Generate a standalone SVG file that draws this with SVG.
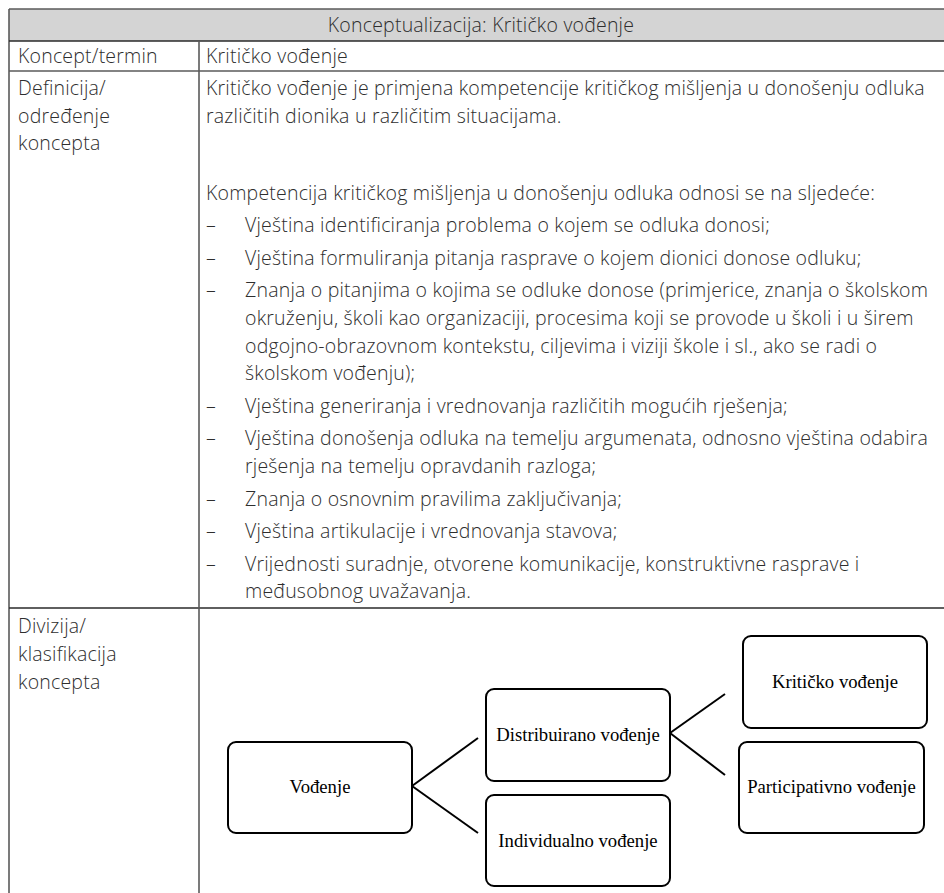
<svg xmlns="http://www.w3.org/2000/svg" width="944" height="893" viewBox="0 0 944 893">
  <style>
    .grid { stroke: #5a5a5a; stroke-width: 1.6; fill: none; }
    .t { font-family: "Open Sans", Lato, "Liberation Sans", sans-serif; font-weight: 300; font-size: 19.5px; letter-spacing: 0.2px; fill: #2e2e2e; }
    .hd { text-anchor: middle; }
    .d { font-family: "Liberation Serif", "Times New Roman", serif; font-size: 18.7px; fill: #000; text-anchor: middle; }
    .box { fill: #fff; stroke: #000; stroke-width: 2; }
    .link { stroke: #000; stroke-width: 2; fill: none; }
  </style>
  <rect width="944" height="893" fill="#fff"/>

  <!-- table frame -->
  <g id="table">
    <rect x="9" y="9" width="940" height="32" fill="#d4d4d4"/>
    <line class="grid" x1="9" y1="9" x2="944" y2="9"/>
    <line class="grid" x1="9" y1="9" x2="9" y2="893"/>
    <line x1="9" y1="41" x2="944" y2="41" stroke="#2a2a2a" stroke-width="1.6"/>
    <line class="grid" x1="9" y1="71" x2="944" y2="71"/>
    <line x1="9" y1="608" x2="944" y2="608" stroke="#2a2a2a" stroke-width="1.6"/>
    <line class="grid" x1="199" y1="41" x2="199" y2="893"/>
  </g>

  <!-- table text -->
  <g id="table-text" class="t">
    <text class="hd" x="481" y="32">Konceptualizacija: Kritičko vođenje</text>

    <text x="18" y="63">Koncept/termin</text>
    <text x="206" y="63">Kritičko vođenje</text>

    <text x="18" y="95">Definicija/</text>
    <text x="18" y="122.7">određenje</text>
    <text x="18" y="150.4">koncepta</text>

    <text x="206" y="95">Kritičko vođenje je primjena kompetencije kritičkog mišljenja u donošenju odluka</text>
    <text x="206" y="122.7">različitih dionika u različitim situacijama.</text>
    <text x="206" y="199.7">Kompetencija kritičkog mišljenja u donošenju odluka odnosi se na sljedeće:</text>

    <text x="206" y="232.2">–</text>
    <text x="245" y="232.2">Vještina identificiranja problema o kojem se odluka donosi;</text>
    <text x="206" y="264.7">–</text>
    <text x="245" y="264.7">Vještina formuliranja pitanja rasprave o kojem dionici donose odluku;</text>
    <text x="206" y="297.2">–</text>
    <text x="245" y="297.2">Znanja o pitanjima o kojima se odluke donose (primjerice, znanja o školskom</text>
    <text x="245" y="324.9">okruženju, školi kao organizaciji, procesima koji se provode u školi i u širem</text>
    <text x="245" y="352.6">odgojno-obrazovnom kontekstu, ciljevima i viziji škole i sl., ako se radi o</text>
    <text x="245" y="380.3">školskom vođenju);</text>
    <text x="206" y="412.8">–</text>
    <text x="245" y="412.8">Vještina generiranja i vrednovanja različitih mogućih rješenja;</text>
    <text x="206" y="445.3">–</text>
    <text x="245" y="445.3">Vještina donošenja odluka na temelju argumenata, odnosno vještina odabira</text>
    <text x="245" y="473">rješenja na temelju opravdanih razloga;</text>
    <text x="206" y="505.5">–</text>
    <text x="245" y="505.5">Znanja o osnovnim pravilima zaključivanja;</text>
    <text x="206" y="538">–</text>
    <text x="245" y="538">Vještina artikulacije i vrednovanja stavova;</text>
    <text x="206" y="570.5">–</text>
    <text x="245" y="570.5">Vrijednosti suradnje, otvorene komunikacije, konstruktivne rasprave i</text>
    <text x="245" y="598.2">međusobnog uvažavanja.</text>

    <text x="18" y="633">Divizija/</text>
    <text x="18" y="661">klasifikacija</text>
    <text x="18" y="689">koncepta</text>
  </g>

  <!-- classification tree -->
  <g id="connectors">
    <line class="link" x1="412" y1="786" x2="478" y2="738"/>
    <line class="link" x1="412" y1="786" x2="478" y2="833"/>
    <line class="link" x1="670" y1="733" x2="725" y2="694"/>
    <line class="link" x1="670" y1="733" x2="725" y2="775"/>
  </g>

  <g id="vodenje">
    <rect class="box" x="228" y="742" width="184" height="91" rx="8"/>
    <text class="d" x="320" y="793">Vođenje</text>
  </g>
  <g id="distribuirano">
    <rect class="box" x="486" y="689" width="184" height="92" rx="8"/>
    <text class="d" x="578" y="741">Distribuirano vođenje</text>
  </g>
  <g id="individualno">
    <rect class="box" x="486" y="795" width="184" height="91" rx="8"/>
    <text class="d" x="578" y="847">Individualno vođenje</text>
  </g>
  <g id="kriticko">
    <rect class="box" x="743" y="636" width="184" height="92" rx="8"/>
    <text class="d" x="835" y="688">Kritičko vođenje</text>
  </g>
  <g id="participativno">
    <rect class="box" x="739" y="742" width="185" height="91" rx="8"/>
    <text class="d" x="831.5" y="793">Participativno vođenje</text>
  </g>
</svg>
